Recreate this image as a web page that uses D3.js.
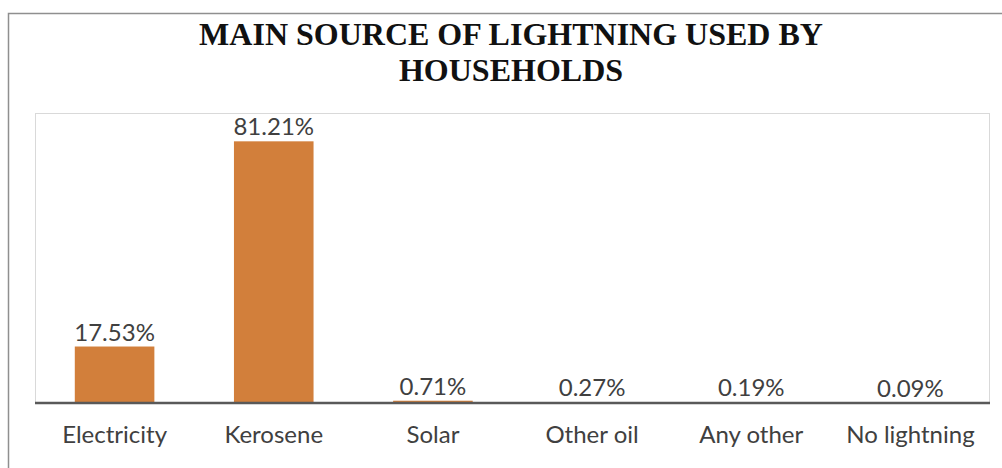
<!DOCTYPE html>
<html><head><meta charset="utf-8">
<script src="https://cdn.jsdelivr.net/npm/d3@7"></script>
<style>body{margin:0;background:#fff}svg{display:block}</style>
</head><body>
<script>
const categories = ["Electricity","Kerosene","Solar","Other oil","Any other","No lightning"];
const values = [17.53, 81.21, 0.71, 0.27, 0.19, 0.09];
const valueLabels = ["17.53%","81.21%","0.71%","0.27%","0.19%","0.09%"];
const titleLines = ["MAIN SOURCE OF LIGHTNING USED BY","HOUSEHOLDS"];

const W=1002,H=468;
const svg=d3.select("body").append("svg").attr("width",W).attr("height",H);
// outer chart border
svg.append("rect").attr("x",8.5).attr("y",13.5).attr("width",1100).attr("height",600)
  .attr("fill","#fff").attr("stroke","#8f8f8f").attr("stroke-width",1.5);

const plot={left:35,right:990,top:113,bottom:403};
svg.append("rect").attr("x",plot.left+0.5).attr("y",plot.top+0.5)
  .attr("width",plot.right-plot.left-1).attr("height",plot.bottom-plot.top)
  .attr("fill","none").attr("stroke","#d9d9d9").attr("stroke-width",1);

const x=d3.scaleBand().domain(categories).range([plot.left,plot.right]).paddingInner(0.5).paddingOuter(0.25);
const y=d3.scaleLinear().domain([0,90]).range([plot.bottom,plot.top]);

svg.selectAll("rect.bar").data(values).join("rect").attr("class","bar")
  .attr("x",(d,i)=>x(categories[i])).attr("width",x.bandwidth())
  .attr("y",d=>y(d)).attr("height",d=>y(0)-y(d)).attr("fill","#d27f3b");

const fontLab="Lato, 'Open Sans', sans-serif";
svg.selectAll("text.val").data(values).join("text").attr("class","val")
  .attr("x",(d,i)=>x(categories[i])+x.bandwidth()/2).attr("y",d=>y(d)-6)
  .attr("text-anchor","middle").attr("font-family",fontLab).attr("font-size",24)
  .attr("fill","#404040").text((d,i)=>valueLabels[i]);

// x axis
const xAxis=svg.append("g").attr("transform",`translate(0,${plot.bottom})`)
  .call(d3.axisBottom(x).tickSize(0).tickPadding(0));
xAxis.select(".domain").attr("stroke","#595959").attr("stroke-width",2.5)
  .attr("d",`M${plot.left},0H${plot.right}`);
xAxis.selectAll("text").attr("font-family",fontLab).attr("font-size",24)
  .attr("fill","#404040").attr("dy",null).attr("y",40);

svg.append("g").selectAll("text").data(titleLines).join("text")
  .attr("x",511).attr("y",(d,i)=>45+i*36).attr("text-anchor","middle")
  .attr("font-family","'Liberation Serif', 'Times New Roman', serif").attr("font-weight","bold")
  .attr("font-size",32).attr("fill","#111").text(d=>d);
</script>
</body></html>
